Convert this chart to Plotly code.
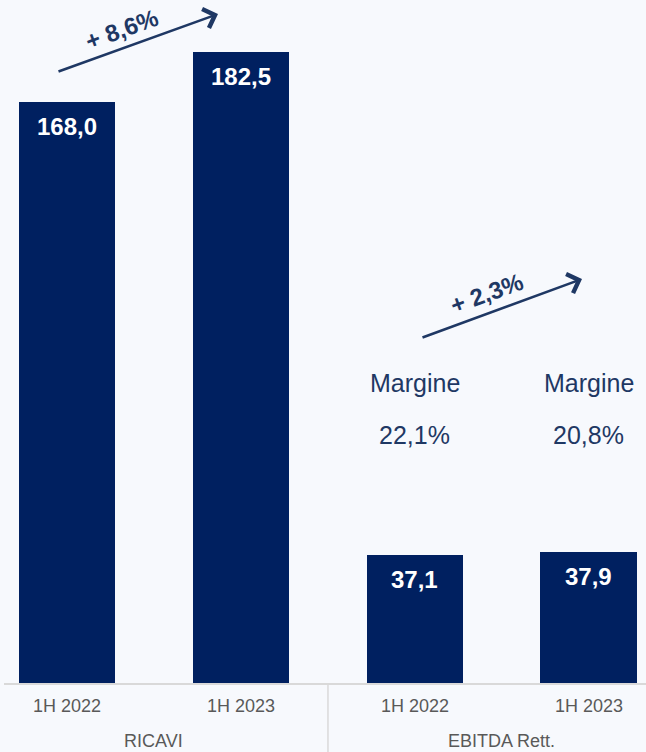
import plotly.graph_objects as go

# data
periods = ["1H 2022", "1H 2023", "1H 2022", "1H 2023"]
groups = ["RICAVI", "EBITDA Rett."]
values = [168.0, 182.5, 37.1, 37.9]
growth = ["+ 8,6%", "+ 2,3%"]
margins = ["22,1%", "20,8%"]

NAVY = "#002060"
TEXT_NAVY = "#1f3864"
GREY = "#595959"
LINE = "#d9d9d9"
BG = "#f7f9fd"
FONT = "Liberation Sans, Arial, sans-serif"


def fmt(v):
    return f"{v:.1f}".replace(".", ",")


xs = list(range(len(values)))

fig = go.Figure()

fig.add_trace(go.Bar(
    x=xs,
    y=values,
    width=0.557,
    marker=dict(color=NAVY, line=dict(width=0)),
    hoverinfo="skip",
))

# value labels inside the bars, near the top
for x, v in zip(xs, values):
    fig.add_annotation(
        x=x, y=v, xref="x", yref="y",
        text=f"<b>{fmt(v)}</b>",
        showarrow=False,
        yanchor="middle",
        yshift=-25,
        font=dict(family=FONT, size=24, color="white"),
    )

# group labels under the ticks
for i, g in enumerate(groups):
    fig.add_annotation(
        x=2 * i + 0.5, y=0, xref="x", yref="paper",
        text=g,
        showarrow=False,
        yanchor="middle",
        yshift=-58,
        font=dict(family=FONT, size=18, color=GREY),
    )

# divider between the two groups
fig.add_shape(
    type="line", xref="x", yref="paper",
    x0=1.5, x1=1.5, y0=0, y1=-0.2,
    line=dict(color=LINE, width=1.5),
)

# growth arrows (paper coords, plot area 4..646 x 0..683 px)
def px(x):
    return (x - 4) / 642


def py(y):
    return (683 - y) / 683


arrows = [((57, 72), (218, 14), (121, 29)), ((421, 338), (582, 279), (486, 293))]
for (tail, head, mid), label in zip(arrows, growth):
    fig.add_annotation(
        x=px(head[0]), y=py(head[1]), xref="paper", yref="paper",
        ax=tail[0] - head[0], ay=tail[1] - head[1],
        text="", showarrow=True,
        arrowhead=4, arrowsize=1.5, arrowwidth=2.6, arrowcolor=TEXT_NAVY,
    )
    fig.add_annotation(
        x=px(mid[0]), y=py(mid[1]), xref="paper", yref="paper",
        xanchor="center", yanchor="middle",
        text=f"<b>{label}</b>", showarrow=False, textangle=-20,
        font=dict(family=FONT, size=24, color=TEXT_NAVY),
    )

# margin labels above EBITDA bars
for x, m in zip(xs[2:], margins):
    fig.add_annotation(
        x=x, y=py(383), xref="x", yref="paper",
        xanchor="center", yanchor="middle",
        text="Margine", showarrow=False,
        font=dict(family=FONT, size=25, color=TEXT_NAVY),
    )
    fig.add_annotation(
        x=x, y=py(435), xref="x", yref="paper",
        xanchor="center", yanchor="middle",
        text=m, showarrow=False,
        font=dict(family=FONT, size=25, color=TEXT_NAVY),
    )

fig.update_layout(
    width=646,
    height=752,
    margin=dict(l=4, r=0, t=0, b=69),
    paper_bgcolor=BG,
    plot_bgcolor=BG,
    showlegend=False,
    bargap=0,
    xaxis=dict(
        range=[-0.362, 3.328],
        tickvals=xs,
        ticktext=periods,
        tickfont=dict(family=FONT, size=18, color=GREY),
        ticklabelstandoff=6,
        showgrid=False,
        zeroline=False,
        showline=True,
        linecolor=LINE,
        linewidth=1.5,
        ticks="",
        fixedrange=True,
    ),
    yaxis=dict(
        range=[0, 197.4],
        visible=False,
        showgrid=False,
        fixedrange=True,
    ),
)

fig.write_html(
    "out.html",
    config={"displayModeBar": False},
    post_script="document.body.style.margin='0';document.body.style.background='" + BG + "';",
)
